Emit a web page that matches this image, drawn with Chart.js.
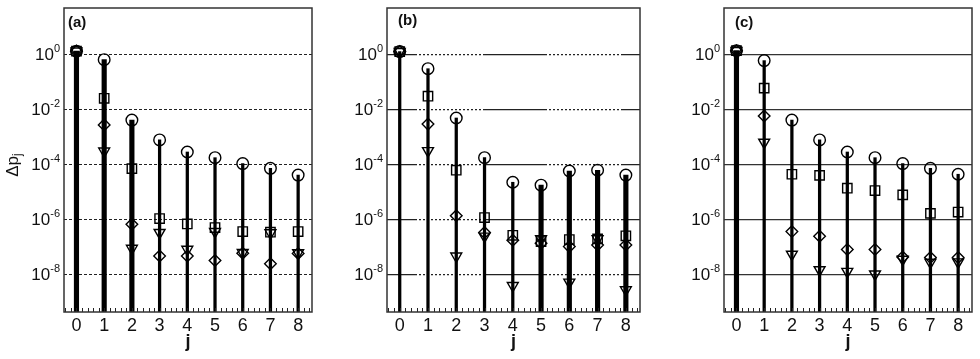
<!DOCTYPE html>
<html>
<head>
<meta charset="utf-8">
<script src="https://cdn.jsdelivr.net/npm/chart.js@4.4.0/dist/chart.umd.min.js"></script>
<style>
html, body { margin: 0; padding: 0; background: #fff; }
#wrap { position: relative; width: 980px; height: 359px; overflow: hidden; }
.panel { position: absolute; top: 0; height: 359px; }
</style>
</head>
<body>
<div id="wrap">
  <div class="panel" style="left:0px;width:320px"><canvas id="chartA" width="320" height="359"></canvas></div>
  <div class="panel" style="left:330px;width:318px"><canvas id="chartB" width="318" height="359"></canvas></div>
  <div class="panel" style="left:660px;width:320px"><canvas id="chartC" width="320" height="359"></canvas></div>
</div>
<script>
// j values on the x axis
const js = [0, 1, 2, 3, 4, 5, 6, 7, 8];
const yTickValues = [1e-8, 1e-6, 1e-4, 1e-2, 1];

// panel (a)
const aCircle   = [1.35, 0.66, 4.2e-3, 8e-4, 2.9e-4, 1.8e-4, 1.1e-4, 7.4e-5, 4.2e-5];
const aSquare   = [1.35, 0.026, 7.2e-5, 1.1e-6, 7e-7, 5.2e-7, 3.7e-7, 3.5e-7, 3.7e-7];
const aDiamond  = [1.35, 2.8e-3, 6.8e-7, 4.8e-8, 4.8e-8, 3.3e-8, 6e-8, 2.5e-8, 5.9e-8];
const aTriangle = [1.35, 3.1e-4, 9e-8, 3.4e-7, 8.3e-8, 3.7e-7, 6.3e-8, 3.3e-7, 6.2e-8];

// panel (b)
const bCircle   = [1.3, 0.31, 5e-3, 1.8e-4, 2.3e-5, 1.8e-5, 5.9e-5, 6.3e-5, 4.2e-5];
const bSquare   = [1.3, 0.031, 6.3e-5, 1.2e-6, 2.7e-7, 1.6e-7, 1.9e-7, 2e-7, 2.6e-7];
const bDiamond  = [1.3, 3e-3, 1.4e-6, 3.4e-7, 1.8e-7, 1.4e-7, 1.05e-7, 1.2e-7, 1.2e-7];
const bTriangle = [1.3, 3.2e-4, 4.7e-8, 2.5e-7, 4e-9, 2e-7, 5.3e-9, 2e-7, 2.8e-9];

// panel (c)
const cCircle   = [1.4, 0.61, 4.2e-3, 8e-4, 2.9e-4, 1.8e-4, 1.1e-4, 7.4e-5, 4.5e-5];
const cSquare   = [1.4, 0.061, 4.5e-5, 4.1e-5, 1.4e-5, 1.15e-5, 8e-6, 1.7e-6, 1.9e-6];
const cDiamond  = [1.4, 5.9e-3, 3.7e-7, 2.5e-7, 8.3e-8, 8.3e-8, 4.4e-8, 4.2e-8, 4.2e-8];
const cTriangle = [1.4, 6.5e-4, 5.5e-8, 1.5e-8, 1.3e-8, 1.05e-8, 3.6e-8, 2.8e-8, 2.9e-8];

const FONT = "'Liberation Sans', Arial, sans-serif";
const INK = '#111';

const panelDecor = {
    id: 'panelDecor',
    afterDraw(chart, args, opts) {
        const ctx = chart.ctx;
        const area = chart.chartArea;
        const xs = chart.scales.x;
        const ys = chart.scales.y;
        ctx.save();

        // minor ticks along the bottom
        ctx.strokeStyle = '#222';
        ctx.lineWidth = 1;
        ctx.beginPath();
        for (let k = -2; k <= 42; k++) {
            const px = Math.round(xs.getPixelForValue(k * 0.2)) + 0.5;
            if (px <= area.left || px >= area.right) continue;
            ctx.moveTo(px, area.bottom);
            ctx.lineTo(px, area.bottom - 4);
        }
        ctx.stroke();

        // frame
        ctx.strokeStyle = '#333';
        ctx.lineWidth = 1.5;
        ctx.strokeRect(area.left, area.top, area.right - area.left, area.bottom - area.top);

        // y tick labels as 10^n
        ctx.fillStyle = INK;
        ctx.textAlign = 'left';
        ctx.textBaseline = 'alphabetic';
        yTickValues.forEach(v => {
            const py = ys.getPixelForValue(v);
            const exp = String(Math.round(Math.log10(v)));
            ctx.font = '11px ' + FONT;
            const ew = ctx.measureText(exp).width;
            ctx.font = '17px ' + FONT;
            const tw = ctx.measureText('10').width;
            const right = area.left - 4;
            ctx.fillText('10', right - ew - tw, py + 5);
            ctx.font = '11px ' + FONT;
            ctx.fillText(exp, right - ew, py - 3);
        });

        // panel tag
        ctx.font = 'bold 15px ' + FONT;
        ctx.fillText(opts.tag, area.left + opts.tagDx, opts.tagY);

        // y title
        if (opts.yTitle) {
            ctx.translate(13, 165);
            ctx.rotate(-Math.PI / 2);
            ctx.font = '17px ' + FONT;
            const w1 = ctx.measureText('\u0394p').width;
            ctx.font = '12px ' + FONT;
            const w2 = ctx.measureText('j').width;
            const start = -(w1 + w2) / 2;
            ctx.textBaseline = 'middle';
            ctx.font = '17px ' + FONT;
            ctx.fillText('\u0394p', start, 0);
            ctx.font = '12px ' + FONT;
            ctx.fillText('j', start + w1, 5);
        }
        ctx.restore();
    }
};

function makePanel(id, circle, square, diamond, triangle, look) {
    const series = [circle, square, diamond, triangle];
    const top = js.map((j, i) => Math.max(...series.map(s => s[i])));
    const stem = (thick) => js
        .filter(j => look.thick.includes(j) === thick)
        .map(j => ({x: j, y: top[j]}));
    const marker = (values, style, radius, rotation) => ({
        type: 'line',
        showLine: false,
        data: js.map((j, i) => ({x: j, y: values[i]})),
        pointStyle: style,
        pointRadius: radius,
        pointRotation: rotation,
        pointBorderWidth: 1.4,
        pointBorderColor: '#000',
        pointBackgroundColor: 'rgba(0,0,0,0)',
        order: 0
    });

    new Chart(document.getElementById(id), {
        type: 'bar',
        data: {
            datasets: [
                {data: stem(true), backgroundColor: '#000', barThickness: 4.5, grouped: false, order: 5},
                {data: stem(false), backgroundColor: '#000', barThickness: 2.6, grouped: false, order: 6},
                marker(circle, 'circle', 5.8, 0),
                marker(square, 'rect', 6.6, 0),
                marker(diamond, 'rectRot', 5.8, 0),
                marker(triangle, 'triangle', 6.3, 180)
            ]
        },
        options: {
            responsive: false,
            animation: false,
            layout: {padding: {top: 2, right: look.padRight, left: 0, bottom: 0}},
            plugins: {
                legend: {display: false},
                tooltip: {enabled: false},
                panelDecor: {tag: look.tag, tagDx: look.tagDx, tagY: look.tagY, yTitle: look.yTitle}
            },
            scales: {
                x: {
                    type: 'linear',
                    min: -0.45,
                    max: 8.5,
                    offset: false,
                    grid: {display: false, drawTicks: false},
                    border: {display: false},
                    afterBuildTicks: s => { s.ticks = js.map(v => ({value: v})); },
                    afterFit: s => { s.height = 47; },
                    ticks: {color: INK, font: {family: FONT, size: 18}, padding: 3},
                    title: {display: true, text: 'j', color: INK,
                            font: {family: FONT, size: 18, weight: 'bold'}, padding: {top: 0, bottom: 6}}
                },
                y: {
                    type: 'logarithmic',
                    min: 4.4e-10,
                    max: 50,
                    afterBuildTicks: s => { s.ticks = yTickValues.map(v => ({value: v})); },
                    afterFit: s => { s.width = look.yWidth; },
                    ticks: {display: false},
                    grid: {color: look.gridColor, lineWidth: look.gridWidth, drawTicks: false},
                    border: {display: false, dash: look.gridDash}
                }
            }
        },
        plugins: [panelDecor]
    });
}

// mixed solid / dotted look of the grid in panel (b)
const dotted = n => Array.from({length: n * 2}, () => 2);
const bDash = [30].concat([2], dotted(16), [64], dotted(18), [2]);

makePanel('chartA', aCircle, aSquare, aDiamond, aTriangle, {
    tag: '(a)', tagDx: 4, tagY: 27, yTitle: true, yWidth: 64, padRight: 6,
    thick: [0, 1, 2], gridDash: [3, 2], gridColor: '#222', gridWidth: 1
});
makePanel('chartB', bCircle, bSquare, bDiamond, bTriangle, {
    tag: '(b)', tagDx: 11, tagY: 25, yTitle: false, yWidth: 57, padRight: 8,
    thick: [5, 6, 7, 8], gridDash: bDash, gridColor: '#222', gridWidth: 1.2
});
makePanel('chartC', cCircle, cSquare, cDiamond, cTriangle, {
    tag: '(c)', tagDx: 11, tagY: 27, yTitle: false, yWidth: 64, padRight: 3,
    thick: [0], gridDash: [], gridColor: '#333', gridWidth: 1.3
});
</script>
</body>
</html>
